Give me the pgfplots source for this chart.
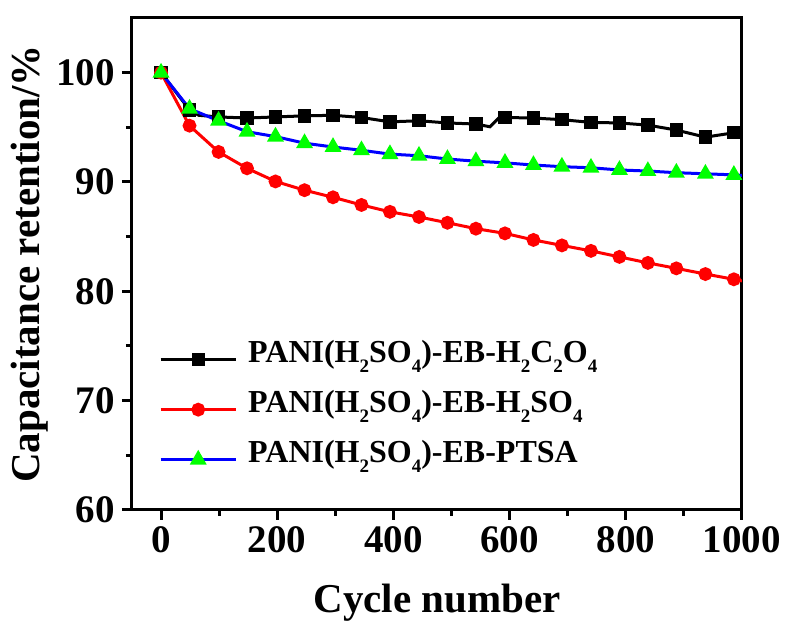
\documentclass[border=0pt]{standalone}
\usepackage{pgfplots}
\pgfplotsset{compat=1.18}
\usepackage{fontspec}
\setmainfont{Liberation Serif}
\newcommand\sub[1]{\raisebox{-5pt}{\fontsize{9.5}{10}\selectfont #1}}
\begin{document}
\begin{tikzpicture}
\begin{axis}[
  scale only axis, width=305pt, height=246pt,
  xmin=-50, xmax=1000, ymin=60, ymax=105,
  xtick={0,200,...,1000}, minor xtick={100,300,...,900},
  ytick={60,70,...,100}, minor ytick={65,75,...,95},
  tick pos=left, tick align=outside,
  major tick length=5pt, minor tick length=3pt,
  axis line style={line width=1.5pt},
  every tick/.style={black, line width=1.5pt},
  /pgf/number format/assume math mode=true,
  /pgf/number format/1000 sep={},
  tick label style={font=\fontsize{19.5}{22}\selectfont\bfseries},
  yticklabel style={xshift=0pt},
  label style={font=\fontsize{20.5}{24}\selectfont\bfseries},
  xlabel={Cycle number}, ylabel={Capacitance retention/\%},
  xlabel style={at={(axis description cs:0.5,-0.189)}, anchor=center},
  ylabel style={at={(axis description cs:-0.168,0.5)}, anchor=center},
  legend style={draw=none, fill=none, at={(axis description cs:0.044,0.345)}, anchor=north west,
    font=\fontsize{16}{18}\selectfont\bfseries, row sep=6pt, column sep=5.5pt, inner sep=0pt,
    nodes={inner sep=0pt, text height=11pt, text depth=8pt}},
  legend cell align=left,
  legend image code/.code={\draw[#1, mark indices={2}] plot coordinates {(0pt,0pt) (18.75pt,0pt) (37.5pt,0pt)};},
]
\addplot[black, line width=1.5pt, mark=square*, mark size=2.6pt,
  mark options={solid, fill=black},
  mark indices={1,2,4,5,6,7,8,9,10,11,12,13,16,17,18,19,20,21,22,23,24}] coordinates {
  (0,100) (49,96.6) (65,96.1) (99,95.95) (148,95.85) (197,95.95) (247,96.05) (296,96.1)
  (345,95.9) (394,95.5) (444,95.6) (493,95.4) (542,95.3) (566,95.05) (584,96.0)
  (592,95.9) (641,95.85) (690,95.7) (740,95.45) (789,95.4) (838,95.2) (887,94.75)
  (937,94.1) (986,94.5) (1000,94.5)};
\addlegendentry{PANI(H\sub{2}SO\sub{4})-EB-H\sub{2}C\sub{2}O\sub{4}}
\addplot[red, line width=1.5pt, mark=*, mark size=2.7pt,
  mark options={solid, fill=red}, mark indices={1,...,21}] coordinates {
  (0,100) (49,95.15) (99,92.75) (148,91.25) (197,90.05) (247,89.25) (296,88.6)
  (345,87.9) (394,87.27) (444,86.8) (493,86.27) (542,85.73) (592,85.3) (641,84.7)
  (690,84.2) (740,83.7) (789,83.15) (838,82.6) (887,82.1) (937,81.58) (986,81.1) (1000,80.95)};
\addlegendentry{PANI(H\sub{2}SO\sub{4})-EB-H\sub{2}SO\sub{4}}
\addplot[blue, line width=1.5pt, mark=triangle*, mark size=3.4pt,
  mark options={solid, fill=green, draw=green}, mark indices={1,...,21}] coordinates {
  (0,100) (49,96.7) (99,95.6) (148,94.6) (197,94.15) (247,93.55) (296,93.2)
  (345,92.9) (394,92.55) (444,92.4) (493,92.1) (542,91.9) (592,91.75) (641,91.55)
  (690,91.4) (740,91.3) (789,91.1) (838,91.0) (887,90.85) (937,90.75) (986,90.65) (1000,90.6)};
\addlegendentry{PANI(H\sub{2}SO\sub{4})-EB-PTSA}
\end{axis}
\pgfresetboundingbox
\path ([shift={(-66pt,-57pt)}]current axis.south west) rectangle ([shift={(23pt,9pt)}]current axis.north east);
\end{tikzpicture}
\end{document}
